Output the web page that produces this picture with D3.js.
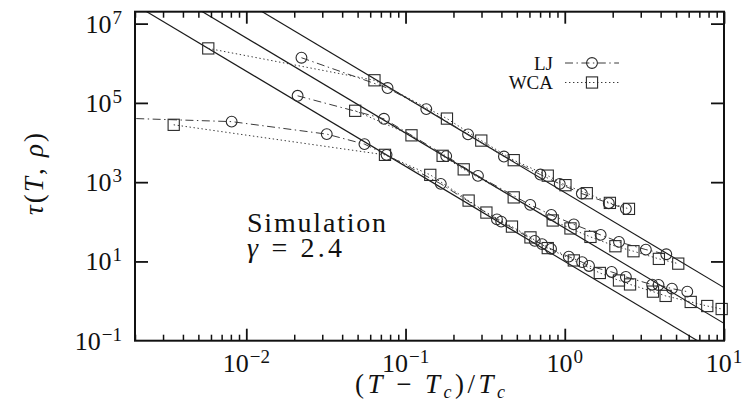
<!DOCTYPE html>
<html>
<head>
<meta charset="utf-8">
<script src="https://cdn.jsdelivr.net/npm/d3@7"></script>
<style>
  body { margin: 0; background: #fff; }
  svg { display: block; }
  text { font-family: "Liberation Serif", "Times New Roman", serif; fill: #111; }
</style>
</head>
<body>
<svg id="chart" width="747" height="401"></svg>
<script>
// Relaxation time tau(T, rho) against reduced temperature (T - Tc)/Tc,
// three densities, Lennard-Jones (LJ) and WCA systems.
const gamma = 2.4;
const fitAmplitudes = [10, 69, 550];   // tau = A * ((T - Tc)/Tc)^(-gamma)

const ljTopX   = [0.0222, 0.0771, 0.135, 0.247, 0.415, 0.703, 0.930, 1.28, 1.89, 2.42];
const ljTopTau = [1.38e6, 2.37e5, 6.97e4, 1.61e4, 4430, 1556, 906, 515, 295, 212];

const wcaTopX   = [0.00577, 0.0638, 0.182, 0.299, 0.478, 0.782, 1.01, 1.375, 1.92, 2.53];
const wcaTopTau = [2.37e6, 3.72e5, 4.02e4, 1.12e4, 3590, 1460, 840, 527, 300, 212];

const ljMidX   = [0.0210, 0.0732, 0.180, 0.285, 0.607, 0.823, 1.14, 1.68, 2.19, 3.23, 4.34];
const ljMidTau = [1.51e5, 3.97e4, 4540, 1443, 267, 149, 86, 46.7, 31.1, 19.9, 15.2];

const wcaMidX   = [0.0483, 0.109, 0.171, 0.232, 0.478, 0.840, 1.086, 1.45, 2.08, 2.70, 3.90, 5.16];
const wcaMidTau = [6.32e4, 1.52e4, 4620, 2105, 413, 108, 68, 41.6, 24.2, 18.1, 11.6, 8.8];

const ljLowX   = [0.001, 0.00809, 0.0320, 0.0552, 0.0760, 0.1665, 0.375, 0.399, 0.648, 0.720,
                  0.820, 1.06, 1.285, 1.42, 1.97, 2.42, 3.54, 3.88, 4.71, 5.88];
const ljLowTau = [4.4e4, 3.37e4, 1.63e4, 9120, 4890, 906, 115, 101, 33.0, 27.4,
                  20.7, 13.2, 9.6, 7.7, 5.43, 4.06, 2.59, 2.55, 2.06, 1.73];

const wcaLowX   = [0.0035, 0.0743, 0.143, 0.249, 0.322, 0.466, 0.609, 0.782, 1.14, 1.66,
                   2.19, 2.57, 3.58, 4.30, 6.18, 7.85, 9.67];
const wcaLowTau = [2.80e4, 4890, 1528, 343, 171, 75.7, 40.4, 21.7, 10.6, 5.12,
                   3.31, 2.63, 1.73, 1.35, 0.95, 0.75, 0.63];

const xMajorTicks = [0.01, 0.1, 1, 10];
const xTickExponents = ["−2", "−1", "0", "1"];
const yMajorTicks = [0.1, 10, 1e3, 1e5, 1e7];
const yTickExponents = ["−1", "1", "3", "5", "7"];

const legendLabels = ["LJ", "WCA"];

// ---- layout ----
const plotLeft = 135, plotRight = 724, plotTop = 11.7, plotBottom = 340.7;
const x = d3.scaleLog().domain([0.002, 10]).range([plotLeft, plotRight]);
const y = d3.scaleLog().domain([0.1, 2e7]).range([plotBottom, plotTop]);
const serif = "'Liberation Serif', 'Times New Roman', serif";

const svg = d3.select("#chart");
svg.append("defs").append("clipPath").attr("id", "plotClip")
  .append("rect").attr("x", plotLeft).attr("y", plotTop)
  .attr("width", plotRight - plotLeft).attr("height", plotBottom - plotTop);

const zip = (xs, ys) => xs.map((v, i) => [v, ys[i]]);
const series = [
  { kind: "lj",  pts: zip(ljTopX, ljTopTau) },
  { kind: "wca", pts: zip(wcaTopX, wcaTopTau) },
  { kind: "lj",  pts: zip(ljMidX, ljMidTau) },
  { kind: "wca", pts: zip(wcaMidX, wcaMidTau) },
  { kind: "lj",  pts: zip(ljLowX, ljLowTau) },
  { kind: "wca", pts: zip(wcaLowX, wcaLowTau) }
];
const lineStyle = {
  lj:  { dash: "8,3.5,1.4,3.5", color: "#3a3a3a" },
  wca: { dash: "1.4,2.6",       color: "#3a3a3a" }
};

// ---- power-law guide lines ----
const guides = svg.append("g").attr("clip-path", "url(#plotClip)");
const xd = x.domain();
fitAmplitudes.forEach(A => {
  const pts = xd.map(v => [v, A * Math.pow(v, -gamma)]);
  guides.append("path")
    .attr("d", d3.line().x(d => x(d[0])).y(d => y(d[1]))(pts))
    .attr("fill", "none").attr("stroke", "#1a1a1a").attr("stroke-width", 1.15);
});

// ---- data connecting lines ----
const conn = svg.append("g").attr("clip-path", "url(#plotClip)");
const line = d3.line().x(d => x(d[0])).y(d => y(d[1]));
series.forEach(s => {
  conn.append("path").attr("d", line(s.pts))
    .attr("fill", "none")
    .attr("stroke", lineStyle[s.kind].color)
    .attr("stroke-width", 1)
    .attr("stroke-dasharray", lineStyle[s.kind].dash);
});

// ---- markers ----
function marker(g, kind, cx, cy) {
  if (kind === "lj") {
    g.append("circle").attr("cx", cx).attr("cy", cy).attr("r", 5.4)
      .attr("fill", "none").attr("stroke", "#2a2a2a").attr("stroke-width", 1.1);
  } else {
    g.append("rect").attr("x", cx - 5.6).attr("y", cy - 5.6)
      .attr("width", 11.2).attr("height", 11.2)
      .attr("fill", "none").attr("stroke", "#2a2a2a").attr("stroke-width", 1.1);
  }
}
const marks = svg.append("g");
series.forEach(s => {
  s.pts.filter(d => d[0] >= xd[0] && d[0] <= xd[1])
    .forEach(d => marker(marks, s.kind, x(d[0]), y(d[1])));
});

// ---- axes ----
const minorX = x.ticks().filter(v => !xMajorTicks.some(m => Math.abs(m - v) / m < 1e-6));
const axesG = svg.append("g").attr("stroke-linecap", "butt");
function styleAxis(g, w) {
  g.select(".domain").remove();
  g.selectAll(".tick line").attr("stroke", "#111").attr("stroke-width", w);
  g.selectAll(".tick text").remove();
}
axesG.append("g").attr("transform", `translate(0,${plotBottom})`)
  .call(d3.axisBottom(x).tickValues(xMajorTicks).tickSize(-12).tickFormat(""))
  .call(g => styleAxis(g, 1.8));
axesG.append("g").attr("transform", `translate(0,${plotBottom})`)
  .call(d3.axisBottom(x).tickValues(minorX).tickSize(-6).tickFormat(""))
  .call(g => styleAxis(g, 1.5));
axesG.append("g").attr("transform", `translate(0,${plotTop})`)
  .call(d3.axisTop(x).tickValues(xMajorTicks).tickSize(-12).tickFormat(""))
  .call(g => styleAxis(g, 1.8));
axesG.append("g").attr("transform", `translate(0,${plotTop})`)
  .call(d3.axisTop(x).tickValues(minorX).tickSize(-6).tickFormat(""))
  .call(g => styleAxis(g, 1.5));
axesG.append("g").attr("transform", `translate(${plotLeft},0)`)
  .call(d3.axisLeft(y).tickValues(yMajorTicks.slice(1)).tickSize(-13).tickFormat(""))
  .call(g => styleAxis(g, 1.8));
axesG.append("g").attr("transform", `translate(${plotRight},0)`)
  .call(d3.axisRight(y).tickValues(yMajorTicks.slice(1)).tickSize(-13).tickFormat(""))
  .call(g => styleAxis(g, 1.8));

svg.append("rect").attr("x", plotLeft).attr("y", plotTop)
  .attr("width", plotRight - plotLeft).attr("height", plotBottom - plotTop)
  .attr("fill", "none").attr("stroke", "#111").attr("stroke-width", 2);

// ---- tick labels (10^n) ----
function powerLabel(g, px, py, exp, anchor) {
  const t = g.append("text").attr("x", px).attr("y", py)
    .attr("font-family", serif)
    .attr("text-anchor", anchor).style("font-size", "26px");
  t.append("tspan").text("10");
  t.append("tspan").attr("dy", -9).attr("dx", 1).style("font-size", "19px").text(exp);
  return t;
}
const labels = svg.append("g");
xMajorTicks.forEach((v, i) => powerLabel(labels, x(v), 372, xTickExponents[i], "middle"));
yMajorTicks.forEach((v, i) => powerLabel(labels, 122, y(v) + 9, yTickExponents[i], "end"));

// ---- axis titles ----
const xt = svg.append("text").attr("x", 355).attr("y", 393)
  .attr("font-family", serif).style("font-size", "27px")
  .attr("textLength", 150).attr("lengthAdjust", "spacing");
xt.append("tspan").text("(");
xt.append("tspan").style("font-style", "italic").text("T");
xt.append("tspan").text(" − ");
xt.append("tspan").style("font-style", "italic").text("T");
xt.append("tspan").attr("dy", 5).style("font-size", "18px").style("font-style", "italic").text("c");
xt.append("tspan").attr("dy", -5).text(")/");
xt.append("tspan").style("font-style", "italic").text("T");
xt.append("tspan").attr("dy", 5).style("font-size", "18px").style("font-style", "italic").text("c");

const yt = svg.append("text")
  .attr("transform", "translate(43,215) rotate(-90)")
  .attr("font-family", serif).style("font-size", "27px")
  .attr("textLength", 82).attr("lengthAdjust", "spacing");
yt.append("tspan").style("font-style", "italic").text("τ");
yt.append("tspan").text("(");
yt.append("tspan").style("font-style", "italic").text("T");
yt.append("tspan").text(", ");
yt.append("tspan").style("font-style", "italic").text("ρ");
yt.append("tspan").text(")");

// ---- annotation ----
svg.append("text").attr("x", 247).attr("y", 232)
  .attr("font-family", serif).style("font-size", "28px")
  .style("letter-spacing", "1.8px")
  .text("Simulation");
const gt = svg.append("text").attr("x", 247).attr("y", 257)
  .attr("font-family", serif).style("font-size", "28px")
  .attr("textLength", 95).attr("lengthAdjust", "spacing");
gt.append("tspan").style("font-style", "italic").text("γ");
gt.append("tspan").text(" = 2.4");

// ---- legend ----
const legend = svg.append("g");
["lj", "wca"].forEach((kind, i) => {
  const ly = 63 + i * 19.5;
  legend.append("text").attr("x", 553).attr("y", ly + 6.5)
    .attr("font-family", serif)
    .attr("text-anchor", "end").style("font-size", "19px").text(legendLabels[i]);
  legend.append("line").attr("x1", 565).attr("x2", 619).attr("y1", ly).attr("y2", ly)
    .attr("stroke", lineStyle[kind].color).attr("stroke-width", 1)
    .attr("stroke-dasharray", lineStyle[kind].dash);
  marker(legend, kind, 592, ly);
});
</script>
</body>
</html>
